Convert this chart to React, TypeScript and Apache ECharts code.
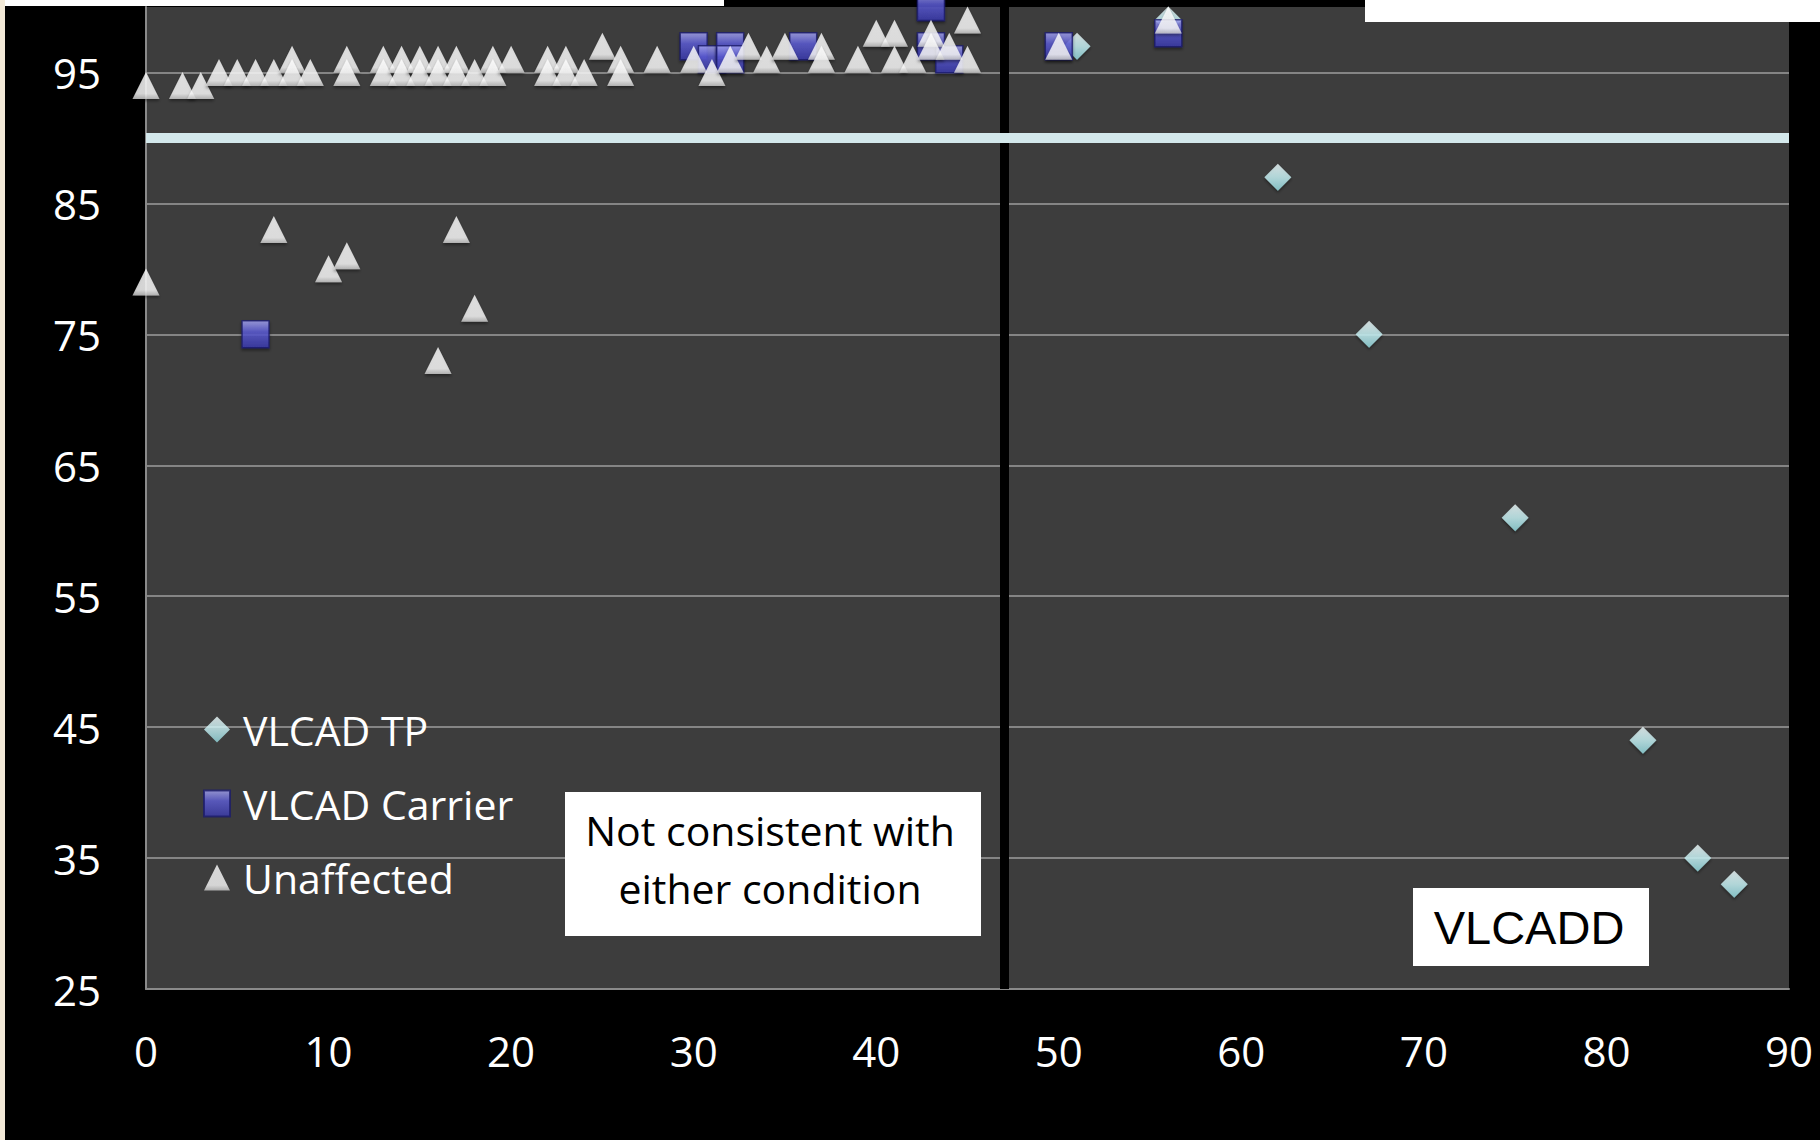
import React, { useEffect, useRef } from "react";
import * as echarts from "echarts";

// ---- Data ----
const xTicks = [0, 10, 20, 30, 40, 50, 60, 70, 80, 90];
const yTicks = [25, 35, 45, 55, 65, 75, 85, 95];

const tpData: number[][] = [
  [51, 97], [56, 99], [62, 87], [67, 75], [75, 61], [82, 44], [85, 35], [87, 33],
];

const carrierData: number[][] = [
  [6, 75], [30, 97], [31, 96], [32, 97], [32, 96], [36, 97],
  [43, 100], [43, 97], [44, 96], [50, 97], [56, 98],
];

const unaffectedData: number[][] = [
  [0, 94], [2, 94], [3, 94], [4, 95], [5, 95], [6, 95], [7, 95], [8, 96], [8, 95], [9, 95],
  [11, 96], [11, 95], [13, 96], [13, 95], [14, 96], [14, 95], [15, 96], [15, 95],
  [16, 96], [16, 95], [17, 96], [17, 95], [18, 95], [19, 96], [19, 95], [20, 96],
  [22, 96], [22, 95], [23, 96], [23, 95], [24, 95], [25, 97], [26, 96], [26, 95],
  [28, 96], [30, 96], [31, 95], [32, 96], [33, 97], [34, 96], [35, 97], [37, 97],
  [37, 96], [39, 96], [40, 98], [41, 98], [41, 96], [42, 96], [43, 98], [43, 97],
  [44, 97], [45, 99], [45, 96], [50, 97], [56, 99],
  [0, 79], [7, 83], [10, 80], [11, 81], [16, 73], [17, 83], [18, 77],
];

const cutoffValue = 90;
const dividerX = 47;

const seriesNames = ["VLCAD TP", "VLCAD Carrier", "Unaffected"];
const boxText1 = "Not consistent with\neither condition";
const boxText2 = "VLCADD";

const FONT = "'Open Sans', sans-serif";

export default function App() {
  const ref = useRef<HTMLDivElement>(null);

  useEffect(() => {
    if (!ref.current) return;
    const chart = echarts.init(ref.current, null, { renderer: "svg" });

    const lin = (stops: [number, string][]) => ({
      type: "linear",
      x: 0, y: 0, x2: 0, y2: 1,
      colorStops: stops.map(([offset, color]) => ({ offset, color })),
    });

    const option: any = {
      animation: false,
      backgroundColor: "#000000",
      grid: {
        left: 146,
        right: 31,
        top: 7,
        bottom: 151,
        show: true,
        backgroundColor: "#3d3d3d",
        borderWidth: 0,
      },
      xAxis: {
        type: "value",
        min: xTicks[0],
        max: xTicks[xTicks.length - 1],
        interval: 10,
        axisLine: { show: true, lineStyle: { color: "#8a8a8a", width: 2 } },
        axisTick: { show: false },
        splitLine: { show: false },
        axisLabel: {
          color: "#ffffff",
          fontSize: 42,
          fontFamily: FONT,
          margin: 40,
        },
      },
      yAxis: {
        type: "value",
        min: yTicks[0],
        max: 100,
        interval: 10,
        axisLine: { show: true, lineStyle: { color: "#8a8a8a", width: 2 } },
        axisTick: { show: false },
        splitLine: {
          show: true,
          showMaxLine: false,
          lineStyle: { color: "#858585", width: 2 },
        },
        axisLabel: {
          color: "#ffffff",
          fontSize: 42,
          fontFamily: FONT,
          margin: 45,
          showMaxLabel: false,
        },
      },
      legend: {
        orient: "vertical",
        left: 203,
        top: 709,
        padding: 0,
        itemWidth: 26,
        itemHeight: 26,
        itemGap: 33,
        data: seriesNames,
        textStyle: {
          color: "#ffffff",
          fontSize: 41,
          fontFamily: FONT,
          lineHeight: 40,
          padding: [0, 0, 0, 8],
        },
      },
      series: [
        {
          name: seriesNames[0],
          type: "scatter",
          clip: false,
          symbol: "diamond",
          symbolSize: [27, 27],
          data: tpData,
          itemStyle: {
            color: lin([[0, "#f2feff"], [0.5, "#c9f4f7"], [1, "#92d8de"]]),
            shadowBlur: 3,
            shadowColor: "rgba(0,0,0,0.5)",
            shadowOffsetY: 2,
          },
          markLine: {
            silent: true,
            symbol: ["none", "none"],
            label: { show: false },
            lineStyle: { type: "solid", color: "#000000", width: 9 },
            data: [{ xAxis: dividerX }],
          },
        },
        {
          name: seriesNames[1],
          type: "scatter",
          clip: false,
          symbol: "rect",
          symbolSize: [27, 27],
          data: carrierData,
          itemStyle: {
            color: lin([[0, "#a8a8f4"], [0.4, "#5e5ed8"], [1, "#3a3aae"]]),
            borderColor: "#1c1c6c",
            borderWidth: 1.5,
            shadowBlur: 3,
            shadowColor: "rgba(0,0,0,0.5)",
            shadowOffsetY: 2,
          },
        },
        {
          name: seriesNames[2],
          type: "scatter",
          clip: false,
          symbol: "triangle",
          symbolSize: [27, 27],
          data: unaffectedData,
          itemStyle: {
            color: lin([[0, "#ffffff"], [0.8, "#fbfbfb"], [1, "#c8c8c8"]]),
            shadowBlur: 3,
            shadowColor: "rgba(0,0,0,0.5)",
            shadowOffsetY: 2,
          },
          markLine: {
            silent: true,
            symbol: ["none", "none"],
            label: { show: false },
            lineStyle: { type: "solid", color: "#d3e8eb", width: 10 },
            data: [{ yAxis: cutoffValue }],
          },
        },
      ],
      graphic: [
        { type: "rect", left: 0, top: 0, shape: { width: 5, height: 1140 }, style: { fill: "#f3ead8" }, z: 100 },
        { type: "rect", left: 5, top: 0, shape: { width: 719, height: 6 }, style: { fill: "#ffffff" }, z: 100 },
        { type: "rect", left: 1365, top: 0, shape: { width: 455, height: 22 }, style: { fill: "#ffffff" }, z: 100 },
        {
          type: "rect",
          left: 565,
          top: 792,
          shape: { width: 416, height: 144 },
          style: { fill: "#ffffff" },
          z: 100,
        },
        {
          type: "text",
          x: 770,
          y: 859,
          z: 101,
          style: {
            text: boxText1,
            fill: "#000000",
            font: `41px ${FONT}`,
            lineHeight: 58,
            align: "center",
            verticalAlign: "middle",
          },
        },
        {
          type: "rect",
          left: 1413,
          top: 888,
          shape: { width: 236, height: 78 },
          style: { fill: "#ffffff" },
          z: 100,
        },
        {
          type: "text",
          x: 1529,
          y: 927,
          z: 101,
          style: {
            text: boxText2,
            fill: "#000000",
            font: "47px 'Liberation Sans', Arial, sans-serif",
            align: "center",
            verticalAlign: "middle",
          },
        },
      ],
    };

    chart.setOption(option);
    return () => chart.dispose();
  }, []);

  return (
    <div
      ref={ref}
      style={{ position: "absolute", left: 0, top: 0, width: 1820, height: 1140 }}
    />
  );
}
